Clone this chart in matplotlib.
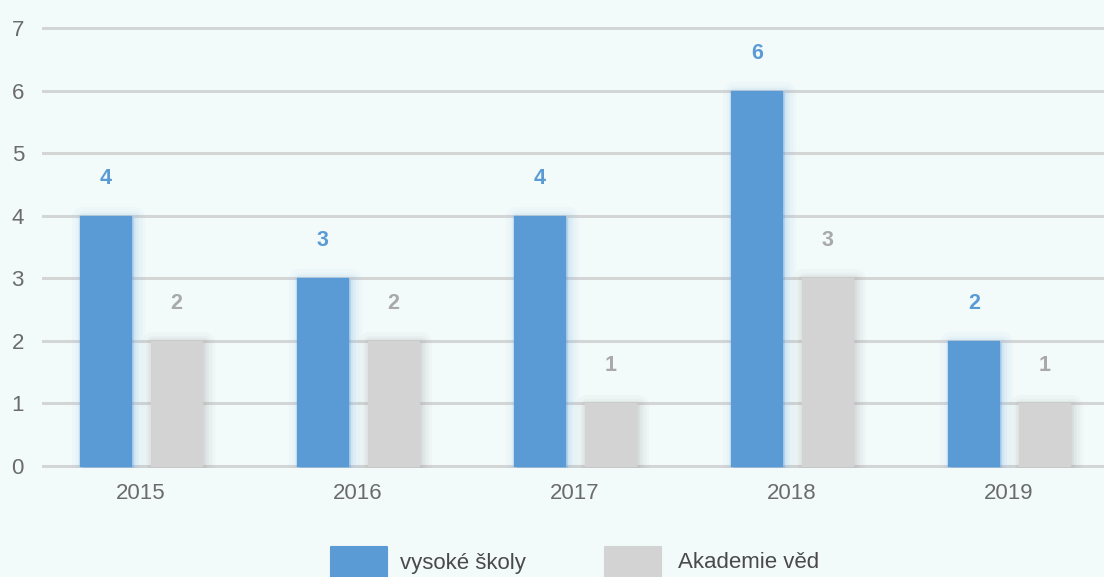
import numpy as np
import matplotlib
matplotlib.use('Agg')
import matplotlib.pyplot as plt
import matplotlib.patheffects as pe
from matplotlib.patches import Rectangle

years = ['2015', '2016', '2017', '2018', '2019']
series_names = ['vysoké školy', 'Akademie věd']
vysoke_skoly = [4, 3, 4, 6, 2]
akademie_ved = [2, 2, 1, 3, 1]
y_ticks = [0, 1, 2, 3, 4, 5, 6, 7]

bg = '#f2fafa'
blue = '#5b9bd5'
gray = '#d3d3d3'
label_colors = ['#5b9bd5', '#a9a9a9']

plt.rcParams['font.family'] = ['Liberation Sans', 'DejaVu Sans']

fig = plt.figure(figsize=(11.04, 5.77), dpi=100, facecolor=bg)
ax = fig.add_axes([42 / 1104, 0.1891, (1104 - 42) / 1104, 0.7657])
ax.set_facecolor(bg)

x = np.arange(len(years))
w = 0.235
off = 0.162


def glow(color, dx, dy):
    effects = []
    for lw, a in [(16, 0.04), (11, 0.06), (7, 0.08), (3, 0.10)]:
        effects.append(pe.Stroke(linewidth=lw, foreground=color, alpha=a, offset=(dx, dy)))
    effects.append(pe.Normal())
    return effects


for vals, color, shadow, sign, lc in [(vysoke_skoly, blue, '#7fb3e6', -1, label_colors[0]),
                                        (akademie_ved, gray, '#909090', 1, label_colors[1])]:
    bars = ax.bar(x + sign * off, vals, width=w, color=color, edgecolor=color,
                  linewidth=1, joinstyle='round', zorder=3)
    for b in bars:
        b.set_path_effects(glow(shadow, 2, -1.5))
    for xi, v in zip(x + sign * off, vals):
        ax.annotate(str(v), (xi, v), xytext=(0, 27), textcoords='offset points',
                    ha='center', va='center', fontsize=15.5, fontweight='bold',
                    color=lc, zorder=4)

ax.set_xlim((42 - 141) / 217, (1104 - 141) / 217)
ax.set_ylim(-0.03, 7.03)
ax.set_yticks(y_ticks)
ax.set_xticks(x)
ax.set_xticklabels(years)
ax.grid(axis='y', color='#d4d6d6', linewidth=2.2, zorder=0)
ax.set_axisbelow(True)
for s in ax.spines.values():
    s.set_visible(False)
ax.tick_params(axis='both', length=0, labelsize=16, labelcolor='#6b6b6b')
ax.tick_params(axis='y', pad=13)
ax.tick_params(axis='x', pad=11)

# legend
legend_items = [(series_names[0], blue, 331, 400), (series_names[1], gray, 605, 678)]
for name, color, px, tx in legend_items:
    fig.patches.append(Rectangle((px / 1104, 0), 56 / 1104, 30 / 577,
                                 transform=fig.transFigure, facecolor=color,
                                 edgecolor=color, linewidth=1.5, joinstyle='round'))
    fig.text(tx / 1104, 1 - 563 / 577, name, ha='left', va='center',
             fontsize=16, color='#4a4a4a')

fig.savefig('out.png', dpi=100, facecolor=bg)
